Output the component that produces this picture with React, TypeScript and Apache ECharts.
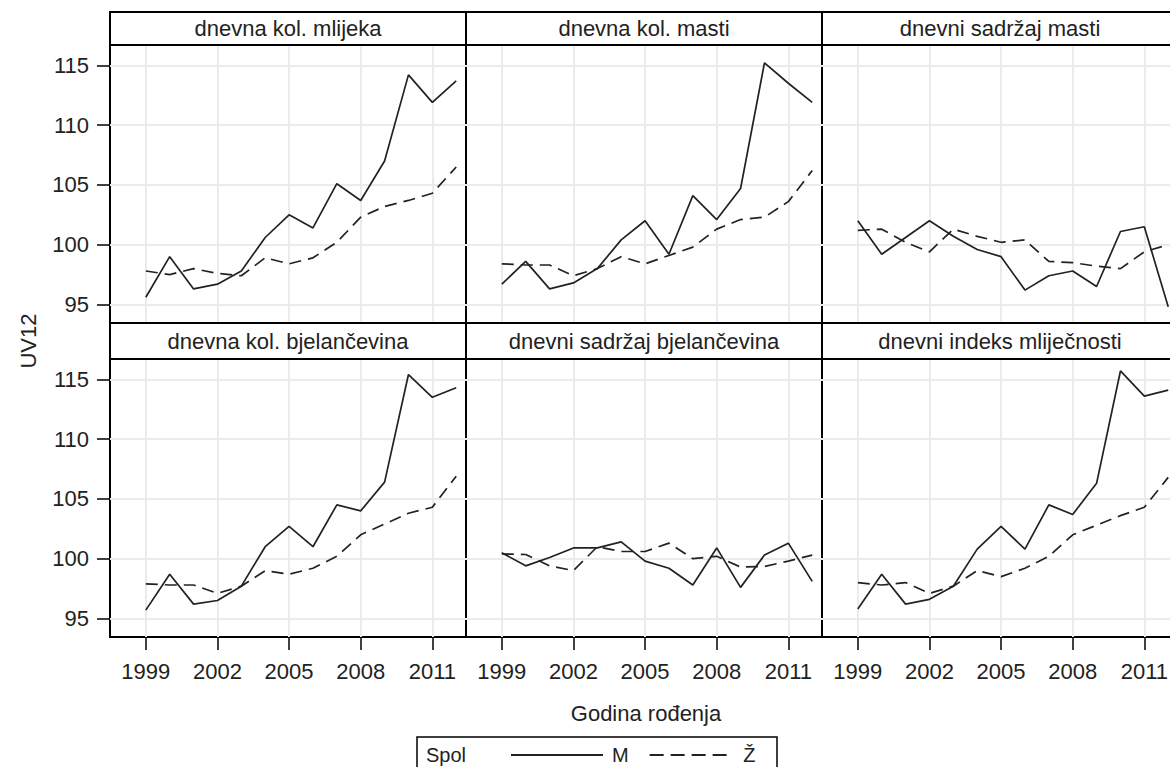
import React, { useEffect, useRef } from "react";
import * as echarts from "echarts";

// ---------- data ----------
const YEARS = [1999, 2000, 2001, 2002, 2003, 2004, 2005, 2006, 2007, 2008, 2009, 2010, 2011, 2012];
const X_TICKS = [1999, 2002, 2005, 2008, 2011];
const Y_TICKS = [95, 100, 105, 110, 115];

const PANEL_TITLES = [
  "dnevna kol. mlijeka",
  "dnevna kol. masti",
  "dnevni sadržaj masti",
  "dnevna kol. bjelančevina",
  "dnevni sadržaj bjelančevina",
  "dnevni indeks mliječnosti",
];

const M_KOL_MLIJEKA = [95.6, 99.0, 96.3, 96.7, 97.8, 100.6, 102.5, 101.4, 105.1, 103.7, 107.0, 114.2, 111.9, 113.7];
const Z_KOL_MLIJEKA = [97.8, 97.5, 98.0, 97.6, 97.4, 98.9, 98.4, 98.9, 100.2, 102.3, 103.2, 103.7, 104.3, 106.5];

const M_KOL_MASTI = [96.7, 98.6, 96.3, 96.8, 98.0, 100.4, 102.0, 99.2, 104.1, 102.1, 104.7, 115.2, 113.5, 111.9];
const Z_KOL_MASTI = [98.4, 98.3, 98.3, 97.4, 98.0, 99.0, 98.4, 99.1, 99.8, 101.3, 102.1, 102.3, 103.6, 106.2];

const M_SADRZAJ_MASTI = [102.0, 99.2, 100.6, 102.0, 100.7, 99.6, 99.0, 96.2, 97.4, 97.8, 96.5, 101.1, 101.5, 94.8];
const Z_SADRZAJ_MASTI = [101.2, 101.3, 100.2, 99.4, 101.3, 100.7, 100.2, 100.4, 98.6, 98.5, 98.2, 98.0, 99.4, 100.0];

const M_KOL_BJEL = [95.7, 98.7, 96.2, 96.5, 97.7, 101.0, 102.7, 101.0, 104.5, 104.0, 106.4, 115.4, 113.5, 114.3];
const Z_KOL_BJEL = [97.9, 97.8, 97.8, 97.1, 97.7, 99.0, 98.7, 99.2, 100.2, 102.0, 102.9, 103.8, 104.3, 106.9];

const M_SADRZAJ_BJEL = [100.5, 99.4, 100.1, 100.9, 100.9, 101.4, 99.8, 99.2, 97.8, 100.9, 97.6, 100.3, 101.3, 98.1];
const Z_SADRZAJ_BJEL = [100.4, 100.35, 99.4, 99.0, 101.0, 100.6, 100.6, 101.3, 100.0, 100.2, 99.3, 99.35, 99.8, 100.3];

const M_INDEKS = [95.8, 98.7, 96.2, 96.6, 97.7, 100.8, 102.7, 100.8, 104.5, 103.7, 106.3, 115.7, 113.6, 114.1];
const Z_INDEKS = [98.0, 97.8, 98.0, 97.1, 97.7, 99.0, 98.5, 99.2, 100.2, 102.0, 102.8, 103.6, 104.3, 106.8];

const M_SERIES = [M_KOL_MLIJEKA, M_KOL_MASTI, M_SADRZAJ_MASTI, M_KOL_BJEL, M_SADRZAJ_BJEL, M_INDEKS];
const Z_SERIES = [Z_KOL_MLIJEKA, Z_KOL_MASTI, Z_SADRZAJ_MASTI, Z_KOL_BJEL, Z_SADRZAJ_BJEL, Z_INDEKS];

const X_TITLE = "Godina rođenja";
const Y_TITLE = "UV12";
const LEGEND_TITLE = "Spol";
const NAME_M = "M";
const NAME_Z = "Ž";

// ---------- layout ----------
const FONT = "'Liberation Sans', Arial, sans-serif";
const TEXT = "#222";
const FS = 22;
const COL_LEFT = [110, 466, 822];
const COL_W = 356;
const ROW_TOP = [45, 359];
const ROW_H = 278;
const HEADER_TOP = [12, 323];
const HEADER_H = [33, 36];
const X_MIN = 1997.5;
const X_MAX = 2012.41;
const Y_MIN = 93.45;
const Y_MAX = 116.7;

const ICON_SOLID = "path://M0,0H92V2H0Z";
const ICON_DASH = "path://M0,0H14V2H0Z M21,0H35V2H21Z M42,0H56V2H42Z M63,0H77V2H63Z";

const plain = (v: number) => String(v);

function buildOption() {
  const grid: any[] = [];
  const xAxis: any[] = [];
  const yAxis: any[] = [];
  const series: any[] = [];
  const graphic: any[] = [];

  PANEL_TITLES.forEach((title, i) => {
    const row = Math.floor(i / 3);
    const col = i % 3;
    grid.push({
      left: COL_LEFT[col],
      top: ROW_TOP[row],
      width: COL_W,
      height: ROW_H,
      show: true,
      borderColor: "#000",
      borderWidth: 2,
      backgroundColor: "#fff",
      containLabel: false,
      outerBoundsMode: "none",
    });
    xAxis.push({
      type: "value",
      gridIndex: i,
      min: X_MIN,
      max: X_MAX,
      axisLine: { show: false },
      axisTick: {
        show: row === 1,
        customValues: X_TICKS,
        length: 13,
        lineStyle: { color: "#000", width: 1.5 },
      },
      axisLabel: {
        show: row === 1,
        customValues: X_TICKS,
        formatter: plain,
        margin: 23,
        fontSize: FS,
        fontFamily: FONT,
        color: TEXT,
      },
      splitLine: { show: true, lineStyle: { color: "#ebebeb", width: 2 } },
    });
    yAxis.push({
      type: "value",
      gridIndex: i,
      min: Y_MIN,
      max: Y_MAX,
      axisLine: { show: false },
      axisTick: {
        show: col === 0,
        customValues: Y_TICKS,
        length: 13,
        lineStyle: { color: "#000", width: 1.5 },
      },
      axisLabel: {
        show: col === 0,
        customValues: Y_TICKS,
        formatter: plain,
        margin: 21,
        fontSize: FS,
        fontFamily: FONT,
        color: TEXT,
      },
      splitLine: { show: true, lineStyle: { color: "#ebebeb", width: 2 } },
    });
    series.push({
      name: NAME_M,
      type: "line",
      xAxisIndex: i,
      yAxisIndex: i,
      data: YEARS.map((y, k) => [y, M_SERIES[i][k]]),
      symbol: "none",
      showSymbol: false,
      color: "#222",
      itemStyle: { color: "#222" },
      lineStyle: { color: "#222", width: 1.7 },
      z: 3,
    });
    series.push({
      name: NAME_Z,
      type: "line",
      xAxisIndex: i,
      yAxisIndex: i,
      data: YEARS.map((y, k) => [y, Z_SERIES[i][k]]),
      symbol: "none",
      showSymbol: false,
      color: "#222",
      itemStyle: { color: "#222" },
      lineStyle: { color: "#222", width: 1.7, type: [12, 7] },
      z: 2,
    });

    // header strip
    graphic.push({
      type: "rect",
      shape: { x: COL_LEFT[col], y: HEADER_TOP[row], width: COL_W, height: HEADER_H[row] },
      style: { fill: "#fff", stroke: "#000", lineWidth: 2 },
      z: 10,
    });
    graphic.push({
      type: "text",
      x: COL_LEFT[col] + COL_W / 2,
      y: HEADER_TOP[row] + HEADER_H[row] / 2,
      style: {
        text: title,
        fontSize: FS,
        fontFamily: FONT,
        fill: TEXT,
        align: "center",
        verticalAlign: "middle",
        textAlign: "center",
        textVerticalAlign: "middle",
      },
      z: 11,
    });
  });

  // axis titles
  graphic.push({
    type: "text",
    x: 28,
    y: (ROW_TOP[0] + ROW_TOP[1] + ROW_H) / 2,
    rotation: Math.PI / 2,
    style: {
      text: Y_TITLE,
      fontSize: FS,
      fontFamily: FONT,
      fill: TEXT,
      align: "center",
      verticalAlign: "middle",
      textAlign: "center",
      textVerticalAlign: "middle",
    },
  });
  graphic.push({
    type: "text",
    x: 646,
    y: 713,
    style: {
      text: X_TITLE,
      fontSize: FS,
      fontFamily: FONT,
      fill: TEXT,
      align: "center",
      verticalAlign: "middle",
      textAlign: "center",
      textVerticalAlign: "middle",
    },
  });
  // legend frame + title
  graphic.push({
    type: "rect",
    shape: { x: 417, y: 737, width: 360, height: 40 },
    style: { fill: "none", stroke: "#000", lineWidth: 1.5 },
  });
  graphic.push({
    type: "text",
    x: 426,
    y: 755,
    style: {
      text: LEGEND_TITLE,
      fontSize: 20,
      fontFamily: FONT,
      fill: TEXT,
      align: "left",
      verticalAlign: "middle",
      textAlign: "left",
      textVerticalAlign: "middle",
    },
  });

  return {
    animation: false,
    backgroundColor: "#fff",
    grid,
    xAxis,
    yAxis,
    series,
    graphic,
    legend: {
      data: [
        { name: NAME_M, icon: ICON_SOLID },
        { name: NAME_Z, icon: ICON_DASH },
      ],
      left: 511,
      top: 745,
      padding: 0,
      itemWidth: 100,
      itemHeight: 2,
      itemGap: 21,
      selectedMode: false,
      textStyle: { fontSize: 20, fontFamily: FONT, color: TEXT },
    },
  };
}

export default function App() {
  const ref = useRef<HTMLDivElement>(null);
  useEffect(() => {
    if (!ref.current) return;
    const chart = echarts.init(ref.current, undefined, { renderer: "svg" });
    chart.setOption(buildOption() as any);
    return () => chart.dispose();
  }, []);
  return (
    <div
      ref={ref}
      style={{ position: "fixed", left: 0, top: 0, width: 1170, height: 767, background: "#fff" }}
    />
  );
}
